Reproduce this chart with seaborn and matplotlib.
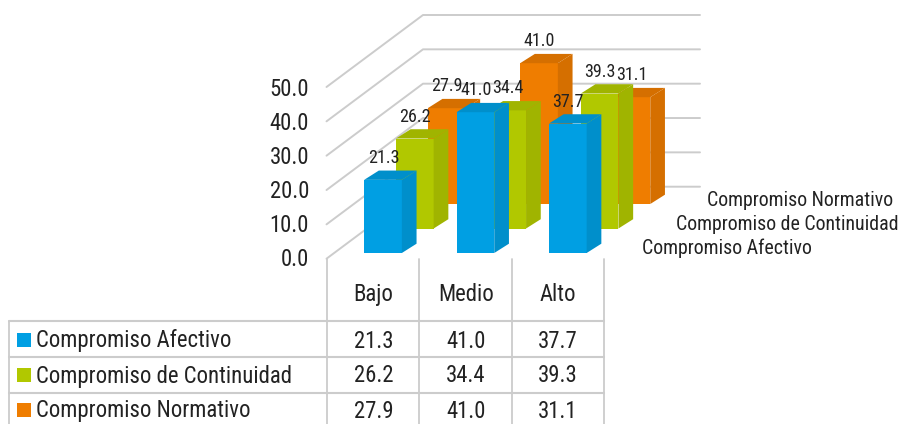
import matplotlib
matplotlib.use("Agg")
import matplotlib.pyplot as plt
from matplotlib.patches import Polygon, Rectangle
from matplotlib.transforms import IdentityTransform
import seaborn as sns
import pandas as pd

W, H = 901, 424

niveles = ["Bajo", "Medio", "Alto"]
afectivo = [21.3, 41.0, 37.7]
continuidad = [26.2, 34.4, 39.3]
normativo = [27.9, 41.0, 31.1]
nombres = ["Compromiso Afectivo", "Compromiso de Continuidad", "Compromiso Normativo"]
y_ticks = [0, 10, 20, 30, 40, 50]

colores = ["#009FE3", "#B1C800", "#EF7D00"]
laterales = ["#008FCB", "#A0B400", "#D56F00"]
GRIS = "#CCCCCC"
TEXTO = "#222222"
TAM = 16.4
TAM_SERIE = 14.3
TAM_BARRA = 13

# geometria de la caja 3D, en pixeles de la imagen
ESCALA = 171.7 / 50
PASO = 92.4
DX, DY = 31.8, -24.5
LADO_X, LADO_Y = 14.7, -9.3

sns.set_theme(style="white")
plt.rcParams["font.family"] = ["Roboto Condensed", "DejaVu Sans"]

fig = plt.figure(figsize=(W / 100, H / 100), dpi=100)

fondo = fig.add_axes([0, 0, 1, 1])
fondo.set_xlim(0, W)
fondo.set_ylim(H, 0)
fondo.axis("off")

# paredes
for t in y_ticks:
    y_front = 258.7 - t * ESCALA
    y_back = y_front - 72
    fondo.plot([326.5, 423, 700], [y_front, y_back, y_back], color=GRIS, lw=1.4)
    fondo.text(309, y_front + 1 + t * 0.03, f"{t:.1f}", ha="right", va="center", fontsize=TAM, color=TEXTO)

# tabla
for x in [327, 419, 512, 604]:
    fondo.plot([x, x], [258.5, H], color=GRIS, lw=1.3)
fondo.plot([9, 9], [321, H], color=GRIS, lw=1.3)
for y in [321, 357, 393]:
    fondo.plot([9, 604], [y, y], color=GRIS, lw=1.5)

centros_tabla = [373.5, 466, 558]
for x, nivel in zip(centros_tabla, niveles):
    fondo.text(x, 294.5, nivel, ha="center", va="center", fontsize=TAM, color=TEXTO)

series = [afectivo, continuidad, normativo]
filas_y = [341, 376, 411]
for nombre, valores, color, y in zip(nombres, series, colores, filas_y):
    fondo.add_patch(Rectangle((17, y - 8.5), 14, 14.5, color=color, lw=0))
    fondo.text(36.5, y, nombre, ha="left", va="center", fontsize=TAM, color=TEXTO)
    for x, v in zip(centros_tabla, valores):
        fondo.text(x, y, f"{v:.1f}", ha="center", va="center", fontsize=TAM, color=TEXTO)

# nombres de serie a la derecha
fondo.text(893, 200.5, nombres[2], ha="right", va="center", fontsize=TAM_SERIE, color=TEXTO)
fondo.text(899, 224.5, nombres[1], ha="right", va="center", fontsize=TAM_SERIE, color=TEXTO)
fondo.text(812, 248.5, nombres[0], ha="right", va="center", fontsize=TAM_SERIE, color=TEXTO)


def dibujar_serie(i):
    """Dibuja una fila de barras, desplazada hacia el fondo segun su indice."""
    x0 = 336.8 + DX * i
    y0 = 253 + DY * i
    ax = fig.add_axes([x0 / W, (H - y0) / H, 3 * PASO / W, 50 * ESCALA / H])
    ax.patch.set_alpha(0)
    df = pd.DataFrame({"nivel": niveles, "valor": series[i]})
    sns.barplot(data=df, x="nivel", y="valor", color=colores[i], saturation=1,
                width=0.408, linewidth=0, ax=ax)
    ax.set_xlim(-0.5, 2.5)
    ax.set_ylim(0, 50)
    ax.axis("off")

    for barra in list(ax.patches):
        (xa, ya), (xb, yb) = ax.transData.transform(
            [(barra.get_x(), 0), (barra.get_x() + barra.get_width(), barra.get_height())]
        )
        # cara lateral y cara superior
        lx, ly = LADO_X, -LADO_Y
        lado = [(xb, ya), (xb + lx, ya + ly), (xb + lx, yb + ly), (xb, yb)]
        tapa = [(xa, yb), (xa + lx, yb + ly), (xb + lx, yb + ly), (xb, yb)]
        for puntos in (lado, tapa):
            ax.add_patch(Polygon(puntos, closed=True, facecolor=laterales[i], edgecolor="none",
                                 transform=IdentityTransform(), clip_on=False))
        fig.text(((xa + xb) / 2 + 0.5) / W, (yb + 22) / H, f"{barra.get_height():.1f}",
                 ha="center", va="center", fontsize=TAM_BARRA, color=TEXTO, zorder=5)


# del fondo hacia el frente
for i in [2, 1, 0]:
    dibujar_serie(i)

fig.savefig("out.png", dpi=100, facecolor="white")
